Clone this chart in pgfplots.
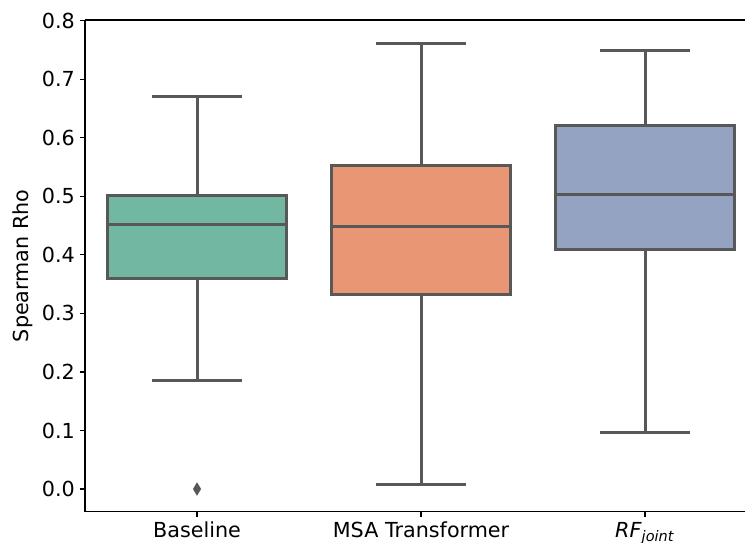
\documentclass[border=0pt]{standalone}
\usepackage{pgfplots}
\pgfplotsset{compat=1.18}
\usepgfplotslibrary{statistics}
\usepackage{fontspec}
\setmainfont{DejaVu Sans}
\definecolor{c1}{RGB}{113,183,161}
\definecolor{c2}{RGB}{233,150,117}
\definecolor{c3}{RGB}{149,163,195}
\definecolor{bg}{RGB}{88,88,88}
\begin{document}
\fontsize{10.35}{12.4}\selectfont
\begin{tikzpicture}[font=\fontsize{10.35}{12.4}\selectfont]
\begin{axis}[name=ax, scale only axis, width=330pt, height=245.75pt,
  xmin=-0.5, xmax=2.446, ymin=-0.0384, ymax=0.8013,
  axis x line*=box, axis y line*=left,
  xtick={0,1,2},
  xticklabels={Baseline, MSA Transformer, \textit{RF}\textsubscript{\textit{joint}}},
  ytick={0,0.1,0.2,0.3,0.4,0.5,0.6,0.7,0.8},
  /pgf/number format/assume math mode=true,
  yticklabel style={/pgf/number format/fixed, /pgf/number format/fixed zerofill, /pgf/number format/precision=1},
  xtick pos=lower, ytick pos=left, tick align=outside,
  major tick length=2.6pt,
  tick style={black, line width=0.6pt},
  axis line style={black, line width=0.6pt},
  yticklabel style={inner sep=0pt, xshift=-2.3pt},
  xticklabel style={inner sep=0pt, yshift=-2.5pt},
  ylabel={Spearman Rho},
  ylabel style={inner sep=0pt, yshift=4.5pt},
  boxplot/box extend=0.8,
  boxplot/whisker extend=0.4,
  boxplot/draw direction=y,
]
\addplot[draw=bg, fill=c1, line width=1.5pt, line join=miter,
  boxplot prepared={draw position=0, lower whisker=0.1854, lower quartile=0.3605,
    median=0.452, upper quartile=0.5015, upper whisker=0.671}] coordinates {};
\addplot[draw=bg, fill=c2, line width=1.5pt, line join=miter,
  boxplot prepared={draw position=1, lower whisker=0.0074, lower quartile=0.333,
    median=0.449, upper quartile=0.552, upper whisker=0.762}] coordinates {};
\addplot[draw=bg, fill=c3, line width=1.5pt, line join=miter,
  boxplot prepared={draw position=2, lower whisker=0.097, lower quartile=0.410,
    median=0.5037, upper quartile=0.621, upper whisker=0.749}] coordinates {};
\addplot[only marks, mark=diamond*, mark size=3.25pt, color=bg,
  mark options={fill=bg, draw=bg, line width=0.1pt, xscale=0.8}] coordinates {(0,0.0)};
\end{axis}
\pgfresetboundingbox
\path ([xshift=-42.5pt,yshift=-15.5pt]ax.south west) rectangle ([xshift=0.5pt,yshift=10pt]ax.north east);
\end{tikzpicture}
\end{document}
